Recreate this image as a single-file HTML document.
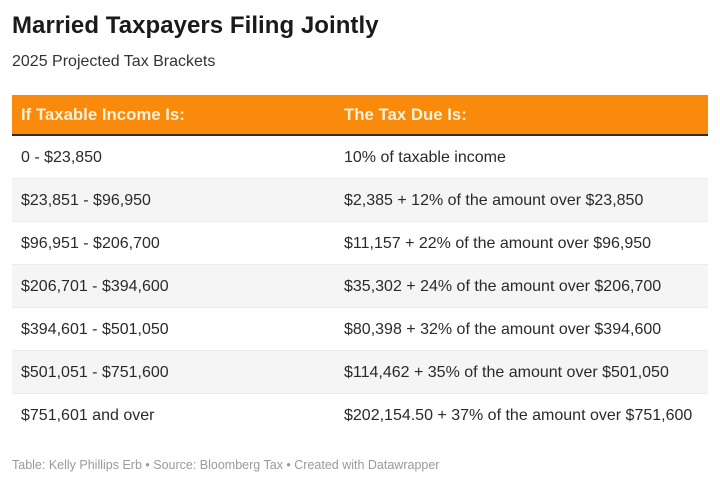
<!DOCTYPE html>
<html><head><meta charset="utf-8"><style>
html,body{margin:0;padding:0;background:#fff;}
body{width:720px;height:486px;position:relative;overflow:hidden;font-family:"Liberation Sans",Arial,sans-serif;color:#222;}
.t{position:absolute;white-space:nowrap;}
#title{left:12px;top:12px;font-size:24px;font-weight:bold;color:#1a1a1a;letter-spacing:0.05px;}
#sub{left:12px;top:53px;font-size:16px;color:#333;}
#hdr{position:absolute;left:12px;top:95px;width:696px;height:39px;background:#f98a0b;border-bottom:2px solid #3a2a1a;}
.h{position:absolute;top:0;line-height:39px;font-size:16.8px;font-weight:bold;color:#fdf1d6;white-space:nowrap;}
.row{position:absolute;left:12px;width:696px;height:43px;border-bottom:1px solid #ececec;box-sizing:border-box;}
.row.s{background:#f5f5f5;}
.c{position:absolute;top:0;line-height:43px;font-size:16px;color:#2a2a2a;white-space:nowrap;}
.c1{left:9px;} .c2{left:332px;}
#foot{left:12px;top:458px;font-size:12.5px;color:#9a9a9a;}
</style></head><body>
<div class="t" id="title">Married Taxpayers Filing Jointly</div>
<div class="t" id="sub">2025 Projected Tax Brackets</div>
<div id="hdr"><div class="h" style="left:9px">If Taxable Income Is:</div><div class="h" style="left:332px">The Tax Due Is:</div></div>
<div class="row" style="top:136px"><div class="c c1">0 - $23,850</div><div class="c c2">10% of taxable income</div></div>
<div class="row s" style="top:179px"><div class="c c1">$23,851 - $96,950</div><div class="c c2">$2,385 + 12% of the amount over $23,850</div></div>
<div class="row" style="top:222px"><div class="c c1">$96,951 - $206,700</div><div class="c c2">$11,157 + 22% of the amount over $96,950</div></div>
<div class="row s" style="top:265px"><div class="c c1">$206,701 - $394,600</div><div class="c c2">$35,302 + 24% of the amount over $206,700</div></div>
<div class="row" style="top:308px"><div class="c c1">$394,601 - $501,050</div><div class="c c2">$80,398 + 32% of the amount over $394,600</div></div>
<div class="row s" style="top:351px"><div class="c c1">$501,051 - $751,600</div><div class="c c2">$114,462 + 35% of the amount over $501,050</div></div>
<div class="row" style="top:394px;border-bottom:none"><div class="c c1">$751,601 and over</div><div class="c c2">$202,154.50 + 37% of the amount over $751,600</div></div>
<div class="t" id="foot">Table: Kelly Phillips Erb • Source: Bloomberg Tax • Created with Datawrapper</div>
</body></html>
